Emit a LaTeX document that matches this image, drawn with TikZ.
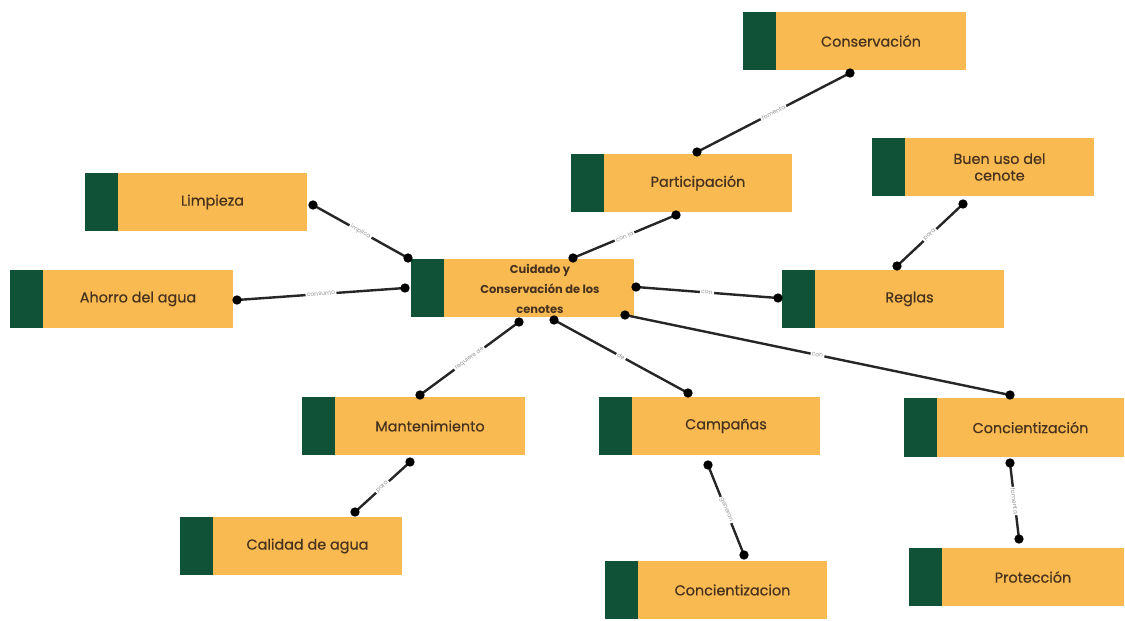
\documentclass[tikz,border=0pt]{standalone}
\usepackage{fontspec}
\setmainfont{Poppins}
\newfontfamily\boxfont[FakeBold=0.6]{Poppins}
\usetikzlibrary{calc}
\definecolor{boxorange}{RGB}{250,186,82}
\definecolor{boxgreen}{RGB}{16,82,56}
\definecolor{txt}{RGB}{70,50,30}
\definecolor{lbl}{RGB}{150,150,150}
\tikzset{
  box/.style={fill=boxorange, draw=none, inner sep=0pt},
  boxtext/.style={text=txt, font=\boxfont\fontsize{10.8}{12.5}\selectfont, align=center, inner sep=0pt},
  conn/.style={line width=1.8pt, draw=black!85, line cap=round},
  dot/.style={circle, fill=black, inner sep=0pt, minimum size=7pt},
  elabel/.style={text=lbl, font=\fontsize{4.5}{5}\selectfont, fill=white, inner sep=1pt, sloped}
}
\newcommand{\cbox}[6]{%
  \node[box, minimum width={(#4-#2)*0.75pt}, minimum height={(#5-#3)*0.75pt}] (#1) at ({(#2+#4)/2},{(#3+#5)/2}) {};
  \fill[boxgreen] (#1.north west) rectangle ($(#1.south west)+(33,0)$);
  \node[boxtext] (#1t) at ($(#1.center)+(16.5,0)$) {#6};
}
\begin{document}
\begin{tikzpicture}[x=0.75pt, y=-0.75pt]
\useasboundingbox[fill=white] (0,0) rectangle (1125,621);

\cbox{cons}{743}{12}{966}{70}{Conservación}
\cbox{part}{571}{154}{792}{212}{Participación}
\cbox{buen}{872}{138}{1094}{196}{Buen uso del\\cenote}
\cbox{limp}{85}{173}{307}{231}{Limpieza}
\cbox{ahor}{10}{270}{233}{328}{Ahorro del agua}
\node[box, minimum width={223*0.75pt}, minimum height={58*0.75pt}] (cent) at (522.5,288) {};
\fill[boxgreen] (cent.north west) rectangle ($(cent.south west)+(33,0)$);
\node[text=txt, font=\bfseries\fontsize{8.6}{15}\selectfont, align=center, inner sep=0pt] (centt) at (540,289) {Cuidado y\\Conservación de los\\cenotes};
\cbox{regl}{782}{270}{1004}{328}{Reglas}
\cbox{mant}{302}{397}{525}{455}{Mantenimiento}
\cbox{camp}{599}{397}{820}{455}{Campañas}
\cbox{conc}{904}{398}{1124}{457}{Concientización}
\cbox{cali}{180}{517}{402}{575}{Calidad de agua}
\cbox{conb}{605}{561}{827}{619}{Concientizacion}
\cbox{prot}{909}{548}{1124}{606}{Protección}

% endpoints
\coordinate (a1) at (313,205); \coordinate (a2) at (408,258);
\coordinate (b1) at (237,300); \coordinate (b2) at (405,288);
\coordinate (c1) at (676,215); \coordinate (c2) at (573,258);
\coordinate (d1) at (850,73);  \coordinate (d2) at (697,152);
\coordinate (e1) at (963,204); \coordinate (e2) at (897,266);
\coordinate (f1) at (636,287); \coordinate (f2) at (778,298);
\coordinate (g1) at (625,315); \coordinate (g2) at (1010,395);
\coordinate (h1) at (519,322); \coordinate (h2) at (420,395);
\coordinate (i1) at (554,320); \coordinate (i2) at (688,393);
\coordinate (j1) at (410,462); \coordinate (j2) at (355,512);
\coordinate (k1) at (708,465); \coordinate (k2) at (744,555);
\coordinate (l1) at (1010,463); \coordinate (l2) at (1019,539);

\draw[conn] (a1) -- node[elabel]{implica} (a2);
\draw[conn] (b1) -- node[elabel]{consumo} (b2);
\draw[conn] (c1) -- node[elabel]{con la} (c2);
\draw[conn] (d1) -- node[elabel]{fomenta} (d2);
\draw[conn] (e1) -- node[elabel]{para} (e2);
\draw[conn] (f1) -- node[elabel]{con} (f2);
\draw[conn] (g1) -- node[elabel]{con} (g2);
\draw[conn] (h1) -- node[elabel]{requiere de} (h2);
\draw[conn] (i1) -- node[elabel]{de} (i2);
\draw[conn] (j1) -- node[elabel]{para} (j2);
\draw[conn] (k1) -- node[elabel]{generan} (k2);
\draw[conn] (l1) -- node[elabel]{fomenta} (l2);

\foreach \p in {a1,a2,b1,b2,c1,c2,d1,d2,e1,e2,f1,f2,g1,g2,h1,h2,i1,i2,j1,j2,k1,k2,l1,l2}
  \node[dot] at (\p) {};
\end{tikzpicture}
\end{document}
